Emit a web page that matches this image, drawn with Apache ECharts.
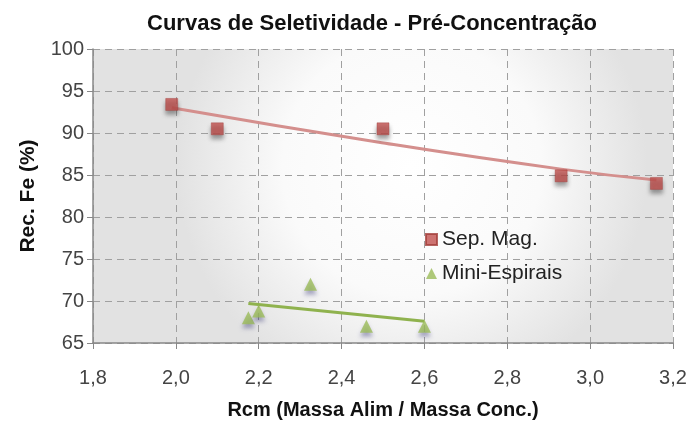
<!DOCTYPE html>
<html><head><meta charset="utf-8">
<script src="https://cdn.jsdelivr.net/npm/echarts@6/dist/echarts.min.js"></script>
<style>html,body{margin:0;padding:0;background:#fff}#c{width:692px;height:425px}</style>
</head><body><div id="c"></div>
<script>
var titleText = 'Curvas de Seletividade - Pré-Concentração';
var xName = 'Rcm (Massa Alim / Massa Conc.)';
var yName = 'Rec. Fe (%)';
var seriesNames = ['Sep. Mag.', 'Mini-Espirais'];
var sepMagX = [1.99, 2.10, 2.50, 2.93, 3.16];
var sepMagY = [93.4, 90.5, 90.5, 84.9, 84.0];
var miniX = [2.175, 2.20, 2.325, 2.46, 2.60];
var miniY = [68.0, 68.8, 72.0, 67.0, 67.0];
var sepTrendX = [1.99, 2.49, 2.93, 3.16];
var sepTrendY = [93.0, 88.9, 85.7, 84.4];
var miniTrendX = [2.175, 2.60];
var miniTrendY = [69.7, 67.6];

function pairs(xs, ys){ return xs.map(function(x,i){return [x, ys[i]];}); }
var FONT = 'Liberation Sans, Arial, sans-serif';
var chart = echarts.init(document.getElementById('c'));
chart.setOption({
  animation: false,
  backgroundColor: '#fff',
  title: { text: titleText, left: 367, textAlign: 'center', top: 8,
    textStyle: { fontFamily: FONT, fontSize: 22, fontWeight: 'bold', color: '#111' } },
  grid: { left: 93, right: 19, top: 49, bottom: 80, show: true, borderWidth: 0,
    backgroundColor: { type: 'radial', x: 0.55, y: 0.4, r: 0.8,
      colorStops: [{offset: 0, color: '#ffffff'}, {offset: 0.55, color: '#fafafa'}, {offset: 1, color: '#e2e2e2'}] } },
  legend: { orient: 'vertical', left: 420, top: 224, itemGap: 13, itemWidth: 11, itemHeight: 11,
    textStyle: { fontFamily: FONT, fontSize: 21, color: '#222' },
    data: [{name: seriesNames[0], icon: 'rect'}, {name: seriesNames[1], icon: 'triangle'}] },
  xAxis: { type: 'value', min: 1.8, max: 3.2, interval: 0.2,
    name: xName, nameLocation: 'middle', nameGap: 57,
    nameTextStyle: { fontFamily: FONT, fontSize: 20, fontWeight: 'bold', color: '#111' },
    axisLine: { show: true, onZero: false, lineStyle: { color: '#888', width: 1.5 } },
    axisTick: { show: true, length: 6, lineStyle: { color: '#888' } },
    axisLabel: { fontFamily: FONT, fontSize: 20, color: '#444', margin: 25,
      formatter: function(v){ return v.toFixed(1).replace('.', ','); } },
    splitLine: { show: true, lineStyle: { color: '#a0a0a0', type: [7, 5], width: 1 } } },
  yAxis: { type: 'value', min: 65, max: 100, interval: 5,
    name: yName, nameLocation: 'middle', nameGap: 54, nameRotate: 90,
    nameTextStyle: { fontFamily: FONT, fontSize: 21, fontWeight: 'bold', color: '#111' },
    axisLine: { show: true, lineStyle: { color: '#888', width: 1.5 } },
    axisTick: { show: true, length: 6, lineStyle: { color: '#888' } },
    axisLabel: { fontFamily: FONT, fontSize: 20, color: '#444', margin: 9 },
    splitLine: { show: true, lineStyle: { color: '#a0a0a0', type: [7, 5], width: 1 } } },
  series: [
    { name: seriesNames[0] + ' trend', type: 'line', data: pairs(sepTrendX, sepTrendY), smooth: true,
      symbol: 'none', lineStyle: { color: '#d48f8d', width: 3 }, z: 2, silent: true },
    { name: seriesNames[1] + ' trend', type: 'line', data: pairs(miniTrendX, miniTrendY),
      symbol: 'none', lineStyle: { color: '#8fb24e', width: 3 }, z: 2, silent: true },
    { name: seriesNames[0], type: 'scatter', data: pairs(sepMagX, sepMagY), symbol: 'rect', symbolSize: 12,
      itemStyle: { color: '#c0504d', borderColor: '#a33e3b', borderWidth: 0.5,
        shadowBlur: 4, shadowColor: 'rgba(0,0,0,0.45)', shadowOffsetY: 4 }, z: 3 },
    { name: seriesNames[1], type: 'scatter', data: pairs(miniX, miniY), symbol: 'triangle', symbolSize: 13,
      itemStyle: { color: '#9bbb59',
        shadowBlur: 4, shadowColor: 'rgba(0,0,80,0.4)', shadowOffsetY: 4 }, z: 3 }
  ]
});
</script></body></html>
